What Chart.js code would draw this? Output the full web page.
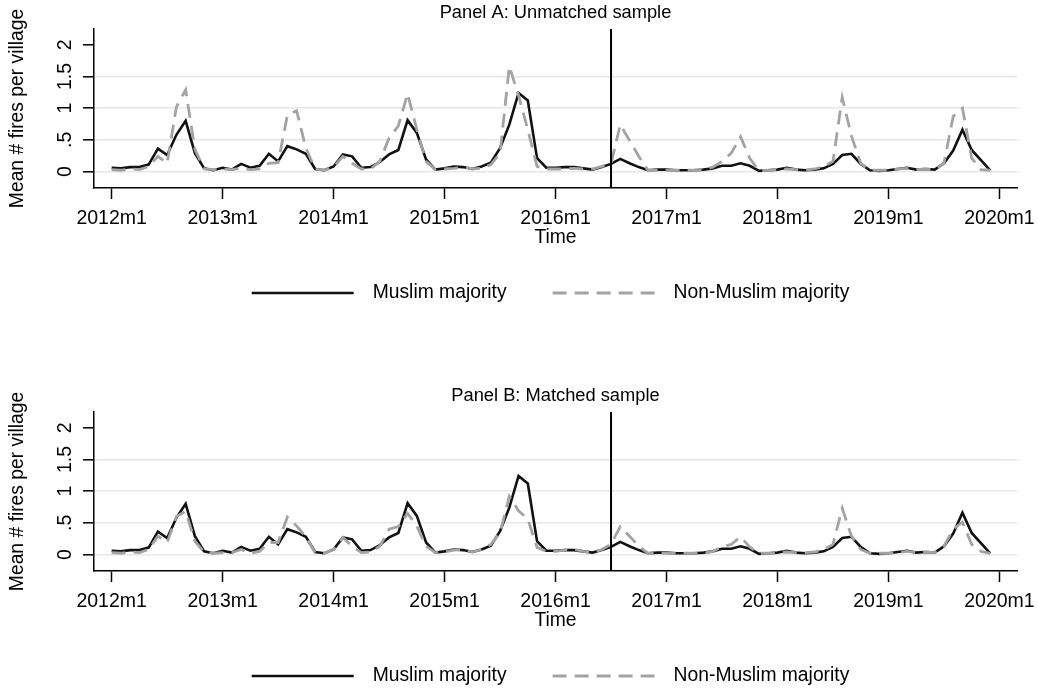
<!DOCTYPE html>
<html>
<head>
<meta charset="utf-8">
<script src="https://cdn.jsdelivr.net/npm/chart.js@4/dist/chart.umd.min.js"></script>
<style>
  body { margin: 0; background: #fff; }
  canvas { position: absolute; left: 0; }
  #panelA { top: 0; }
  #panelB { top: 383px; }
</style>
</head>
<body>
<canvas id="panelA" width="1038" height="308"></canvas>
<canvas id="panelB" width="1038" height="308"></canvas>
<script>
// months 2012m1 .. 2019m12
const months = [];
for (let y = 2012; y <= 2019; y++) {
  for (let m = 1; m <= 12; m++) months.push(y + 'm' + m);
}

const xTickValues = [0, 12, 24, 36, 48, 60, 72, 84, 96];
const xTickLabels = ['2012m1', '2013m1', '2014m1', '2015m1', '2016m1', '2017m1', '2018m1', '2019m1', '2020m1'];
const yTickValues = [0, 0.5, 1, 1.5, 2];
const yTickLabels = ['0', '.5', '1', '1.5', '2'];
const treatIndex = 54; // 2016m7

const muslim = [
  0.06, 0.05, 0.07, 0.07, 0.11, 0.36, 0.26, 0.58, 0.80, 0.29, 0.05, 0.02,
  0.06, 0.03, 0.12, 0.06, 0.09, 0.28, 0.16, 0.40, 0.35, 0.28, 0.04, 0.02,
  0.08, 0.27, 0.24, 0.06, 0.07, 0.15, 0.27, 0.34, 0.81, 0.61, 0.19, 0.03,
  0.05, 0.08, 0.07, 0.04, 0.08, 0.14, 0.37, 0.74, 1.24, 1.12, 0.21, 0.06,
  0.06, 0.07, 0.07, 0.05, 0.03, 0.07, 0.12, 0.20, 0.13, 0.07, 0.02, 0.03,
  0.03, 0.02, 0.02, 0.02, 0.03, 0.05, 0.09, 0.09, 0.13, 0.09, 0.01, 0.02,
  0.03, 0.06, 0.03, 0.02, 0.03, 0.05, 0.12, 0.26, 0.28, 0.12, 0.02, 0.01,
  0.02, 0.04, 0.06, 0.03, 0.04, 0.03, 0.13, 0.33, 0.66, 0.34, 0.18, 0.02
];

const nonMuslimUnmatched = [
  0.03, 0.02, 0.04, 0.03, 0.08, 0.24, 0.13, 1.02, 1.29, 0.35, 0.04, 0.03,
  0.04, 0.03, 0.05, 0.03, 0.04, 0.13, 0.14, 0.89, 0.96, 0.37, 0.04, 0.02,
  0.07, 0.24, 0.13, 0.04, 0.04, 0.16, 0.53, 0.72, 1.23, 0.66, 0.16, 0.03,
  0.04, 0.05, 0.07, 0.04, 0.05, 0.11, 0.29, 1.66, 1.20, 0.66, 0.08, 0.04,
  0.04, 0.04, 0.05, 0.04, 0.04, 0.08, 0.12, 0.74, 0.49, 0.24, 0.02, 0.02,
  0.02, 0.02, 0.02, 0.02, 0.03, 0.07, 0.16, 0.29, 0.55, 0.21, 0.01, 0.02,
  0.03, 0.04, 0.03, 0.02, 0.04, 0.08, 0.16, 1.17, 0.56, 0.13, 0.02, 0.02,
  0.02, 0.04, 0.05, 0.03, 0.04, 0.03, 0.13, 0.87, 1.00, 0.21, 0.03, 0.02
];

const nonMuslimMatched = [
  0.03, 0.02, 0.04, 0.03, 0.08, 0.29, 0.19, 0.60, 0.68, 0.21, 0.04, 0.02,
  0.03, 0.03, 0.08, 0.02, 0.05, 0.19, 0.19, 0.59, 0.45, 0.28, 0.03, 0.02,
  0.08, 0.27, 0.13, 0.03, 0.04, 0.13, 0.40, 0.44, 0.65, 0.45, 0.13, 0.03,
  0.04, 0.07, 0.08, 0.04, 0.08, 0.16, 0.34, 0.92, 0.69, 0.56, 0.11, 0.05,
  0.05, 0.07, 0.08, 0.05, 0.03, 0.08, 0.16, 0.44, 0.29, 0.13, 0.02, 0.02,
  0.02, 0.02, 0.02, 0.02, 0.02, 0.05, 0.12, 0.16, 0.28, 0.12, 0.02, 0.02,
  0.03, 0.04, 0.03, 0.03, 0.04, 0.08, 0.16, 0.73, 0.29, 0.08, 0.02, 0.02,
  0.02, 0.03, 0.05, 0.03, 0.04, 0.03, 0.13, 0.40, 0.51, 0.16, 0.05, 0.02
];

const FONT = '"Liberation Sans", Arial, sans-serif';
const gridColor = '#e0eaee';

function toPoints(arr) {
  return arr.map((v, i) => ({x: i, y: v}));
}

// vertical reference line at treatment date
const treatLine = {
  id: 'treatLine',
  afterDatasetsDraw(chart) {
    const {ctx, chartArea, scales} = chart;
    const x = scales.x.getPixelForValue(treatIndex);
    ctx.save();
    ctx.strokeStyle = '#000';
    ctx.lineWidth = 2;
    ctx.beginPath();
    ctx.moveTo(x, chartArea.top);
    ctx.lineTo(x, chartArea.bottom);
    ctx.stroke();
    ctx.restore();
  }
};

// stata-like legend under the axis
const lineLegend = {
  id: 'lineLegend',
  afterDraw(chart) {
    const {ctx, chartArea} = chart;
    const sets = chart.data.datasets;
    const sample = 102, gap = 19, between = 46;
    ctx.save();
    ctx.font = '19.3px ' + FONT;
    const widths = sets.map(d => ctx.measureText(d.label).width);
    let total = 0;
    widths.forEach((w, i) => { total += sample + gap + w + (i ? between : 0); });
    let x = (chartArea.left + chartArea.right) / 2 - 5 - total / 2;
    const y = chartArea.bottom + 105;
    sets.forEach((d, i) => {
      ctx.strokeStyle = d.borderColor;
      ctx.lineWidth = d.borderWidth;
      ctx.setLineDash(d.borderDash || []);
      ctx.beginPath();
      ctx.moveTo(x, y);
      ctx.lineTo(x + sample, y);
      ctx.stroke();
      ctx.setLineDash([]);
      ctx.fillStyle = '#000';
      ctx.textBaseline = 'middle';
      ctx.textAlign = 'left';
      ctx.fillText(d.label, x + sample + gap, y);
      x += sample + gap + widths[i] + between;
    });
    ctx.restore();
  }
};

function makePanel(id, title, greyData) {
  new Chart(document.getElementById(id), {
    type: 'line',
    data: {
      datasets: [
        {
          label: 'Muslim majority',
          data: toPoints(muslim),
          borderColor: '#111',
          borderWidth: 2.6,
          pointRadius: 0,
          tension: 0,
          order: 1
        },
        {
          label: 'Non-Muslim majority',
          data: toPoints(greyData),
          borderColor: '#a3a3a3',
          borderWidth: 2.8,
          borderDash: [14, 8],
          pointRadius: 0,
          tension: 0,
          order: 0
        }
      ]
    },
    options: {
      responsive: false,
      animation: false,
      events: [],
      layout: {padding: {left: 0, right: 21, top: 0, bottom: 55}},
      plugins: {
        legend: {display: false},
        tooltip: {enabled: false},
        title: {
          display: true,
          text: title,
          fullSize: false,
          color: '#000',
          font: {family: FONT, size: 18.3, weight: 'normal'},
          padding: {top: 2, bottom: 5}
        }
      },
      scales: {
        x: {
          type: 'linear',
          min: -1.91,
          max: 97.9,
          afterBuildTicks: s => { s.ticks = xTickValues.map(v => ({value: v})); },
          afterFit: s => { s.height = 65; s.paddingLeft = 0; s.paddingRight = 0; },
          ticks: {
            autoSkip: false,
            maxRotation: 0,
            padding: 8,
            color: '#000',
            font: {family: FONT, size: 19.5},
            callback: v => xTickLabels[xTickValues.indexOf(v)]
          },
          grid: {
            drawOnChartArea: false,
            drawTicks: true,
            tickLength: 11,
            tickColor: '#000',
            tickWidth: 1.5
          },
          border: {display: true, color: '#000', width: 1.5},
          title: {
            display: true,
            text: 'Time',
            color: '#000',
            font: {family: FONT, size: 19.3},
            padding: {top: 0, bottom: 4}
          }
        },
        y: {
          min: -0.26,
          max: 2.25,
          afterBuildTicks: s => { s.ticks = yTickValues.map(v => ({value: v})); },
          afterFit: s => { s.width = 94; },
          ticks: {
            minRotation: 90,
            maxRotation: 90,
            crossAlign: 'center',
            padding: 4,
            color: '#000',
            font: {family: FONT, size: 19.5},
            callback: v => yTickLabels[yTickValues.indexOf(v)]
          },
          grid: {
            color: c => (c.tick && c.tick.value === 2) ? 'rgba(0,0,0,0)' : gridColor,
            lineWidth: 1.6,
            drawTicks: true,
            tickLength: 11,
            tickColor: '#000',
            tickWidth: 1.5
          },
          border: {display: true, color: '#000', width: 1.5},
          title: {
            display: true,
            text: 'Mean # fires per village',
            color: '#000',
            font: {family: FONT, size: 19.3},
            padding: {top: 6, bottom: 0}
          }
        }
      }
    },
    plugins: [treatLine, lineLegend]
  });
}

makePanel('panelA', 'Panel A: Unmatched sample', nonMuslimUnmatched);
makePanel('panelB', 'Panel B: Matched sample', nonMuslimMatched);
</script>
</body>
</html>
